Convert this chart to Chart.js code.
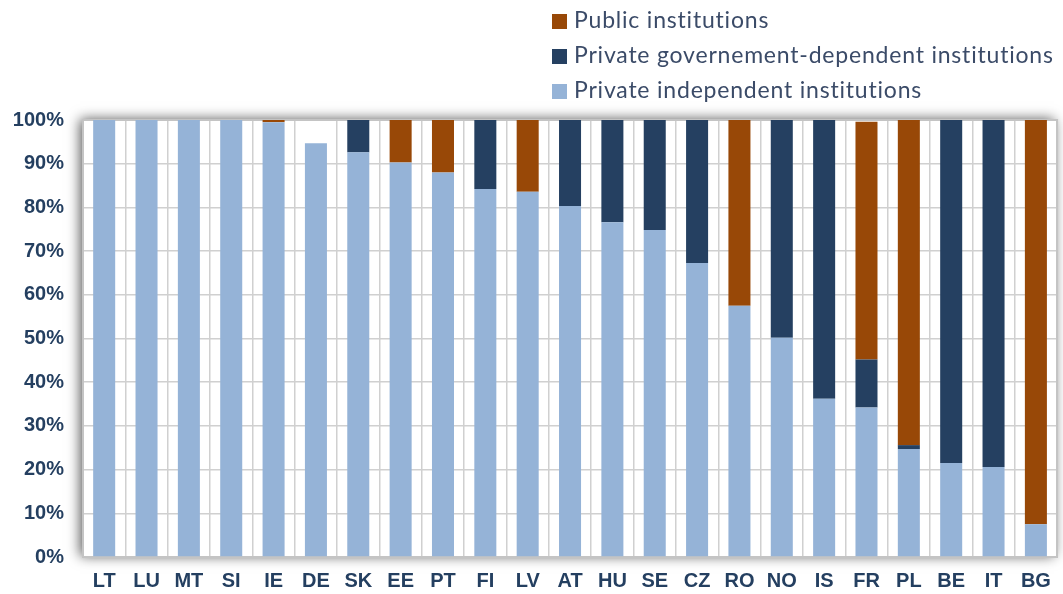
<!DOCTYPE html>
<html>
<head>
<meta charset="utf-8">
<script src="https://cdn.jsdelivr.net/npm/chart.js@4.4.0/dist/chart.umd.min.js"></script>
<style>
  html, body { margin: 0; padding: 0; background: #fff; }
  .wrap { position: relative; width: 1063px; height: 594px; }
  canvas { display: block; }
  .legend { position: absolute; left: 552px; top: 3px; font-family: Lato, "Open Sans", sans-serif; font-size: 23px; letter-spacing: 0.8px; color: #3b4b68; }
  .legend div { height: 35px; line-height: 32px; white-space: nowrap; }
  .legend span { display: inline-block; width: 15px; height: 15px; margin-right: 7px; vertical-align: -1px; }
</style>
</head>
<body>
<div class="wrap">
  <canvas id="chart" width="1063" height="594"></canvas>
  <div class="legend" id="legend"></div>
</div>
<script>
const countries = ["LT", "LU", "MT", "SI", "IE", "DE", "SK", "EE", "PT", "FI", "LV", "AT", "HU", "SE", "CZ", "RO", "NO", "IS", "FR", "PL", "BE", "IT", "BG"];
const privateIndependent = [100, 100, 100, 100, 99.5, 94.7, 92.6, 90.3, 88.0, 84.2, 83.6, 80.3, 76.6, 74.8, 67.3, 57.5, 50.2, 36.2, 34.2, 24.7, 21.5, 20.6, 7.5];
const privateGovDependent = [0, 0, 0, 0, 0, 0, 7.4, 0, 0, 15.8, 0, 19.7, 23.4, 25.2, 32.7, 0, 49.8, 63.8, 11.0, 0.9, 78.5, 79.4, 0];
const publicInst = [0, 0, 0, 0, 0.5, 0, 0, 9.7, 12.0, 0, 16.4, 0, 0, 0, 0, 42.5, 0, 0, 54.4, 74.4, 0, 0, 92.5];
const yTicks = [0, 10, 20, 30, 40, 50, 60, 70, 80, 90, 100];

const colors = {
  indep: "#95b3d7",
  gov: "#254061",
  pub: "#984807"
};

// legend, top to bottom like the original
const legendItems = [
  ["Public institutions", colors.pub],
  ["Private governement-dependent institutions", colors.gov],
  ["Private independent institutions", colors.indep]
];
document.getElementById("legend").innerHTML = legendItems
  .map(([t, c]) => `<div><span style="background:${c}"></span>${t}</div>`)
  .join("");

const plotFrame = {
  id: "plotFrame",
  beforeDraw(chart) {
    const { ctx, chartArea: a } = chart;
    ctx.save();
    ctx.shadowColor = "rgba(0,0,0,0.65)";
    ctx.shadowBlur = 12;
    ctx.shadowOffsetX = -3;
    ctx.shadowOffsetY = -1;
    ctx.fillStyle = "#fff";
    ctx.fillRect(a.left, a.top, a.right - a.left, a.bottom - a.top);
    ctx.restore();
  },
  beforeDatasetsDraw(chart) {
    const { ctx, chartArea: a } = chart;
    ctx.save();
    ctx.strokeStyle = "#c4c4c4";
    ctx.lineWidth = 2;
    ctx.strokeRect(a.left, a.top, a.right - a.left, a.bottom - a.top);
    ctx.restore();
  }
};

const tickFont = { family: "'Liberation Sans', Arial, sans-serif", size: 20, weight: "bold" };

new Chart(document.getElementById("chart"), {
  type: "bar",
  data: {
    labels: countries,
    datasets: [
      { label: "Private independent institutions", data: privateIndependent, backgroundColor: colors.indep },
      { label: "Private governement-dependent institutions", data: privateGovDependent, backgroundColor: colors.gov },
      { label: "Public institutions", data: publicInst, backgroundColor: colors.pub }
    ]
  },
  options: {
    responsive: false,
    animation: false,
    layout: { padding: { left: 0, top: 120, right: 5, bottom: 0 } },
    datasets: { bar: { categoryPercentage: 1, barPercentage: 0.52, borderWidth: 0 } },
    plugins: { legend: { display: false }, tooltip: { enabled: false } },
    scales: {
      x: {
        stacked: true,
        afterFit: (s) => { s.height = 37; },
        grid: { color: "#d0d0d0", lineWidth: 1.5, drawTicks: false, offset: true },
        border: { display: false },
        ticks: { color: "#243f60", font: tickFont, padding: 12, maxRotation: 0, autoSkip: false }
      },
      y: {
        stacked: true,
        min: 0,
        max: 100,
        afterFit: (s) => { s.width = 83; },
        afterBuildTicks: (s) => { s.ticks = yTicks.map((v) => ({ value: v })); },
        grid: { color: "#d0d0d0", lineWidth: 1.5, drawTicks: false },
        border: { display: false },
        ticks: { color: "#243f60", font: tickFont, padding: 19, callback: (v) => v + "%" }
      }
    }
  },
  plugins: [plotFrame]
});
</script>
</body>
</html>
